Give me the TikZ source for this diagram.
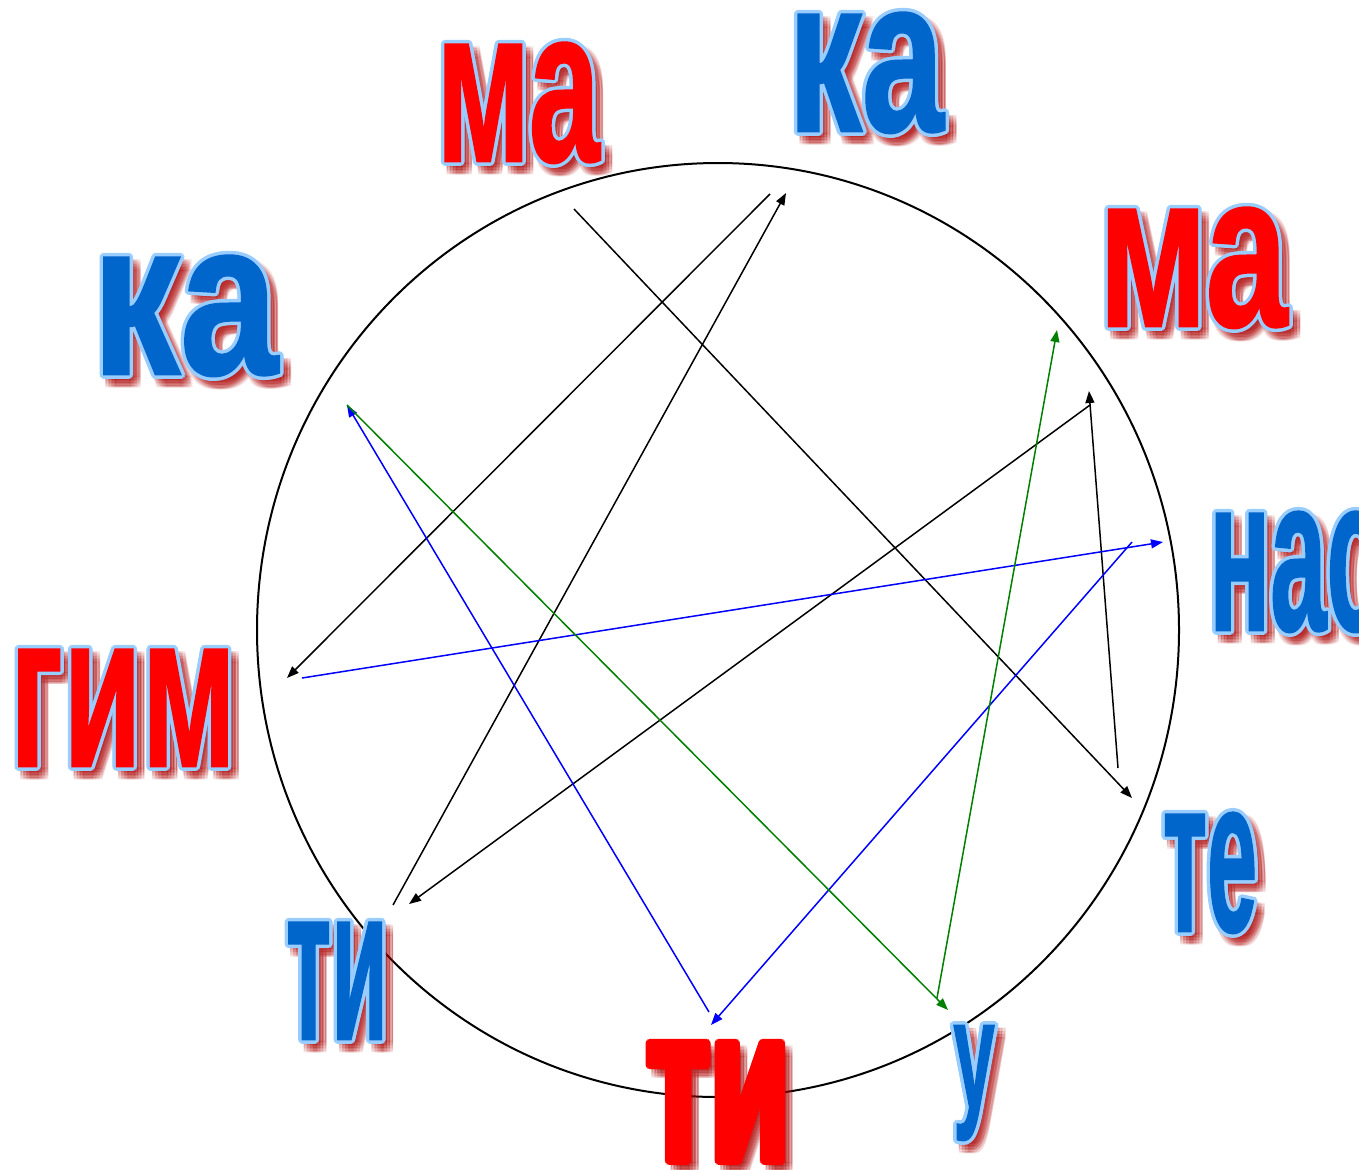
\documentclass[tikz,border=0pt]{standalone}
\usepackage{fontspec}
\usepackage{graphicx}
\newfontfamily\sylfont[FakeBold=1.2]{Liberation Sans}
\usetikzlibrary{arrows.meta, calc}
\definecolor{sylred}{RGB}{255, 0, 0}
\definecolor{sylblue}{RGB}{0, 102, 204}
\definecolor{rimblue}{RGB}{153, 204, 255}
\definecolor{shadowred}{RGB}{170, 0, 0}
\definecolor{linegreen}{RGB}{0, 128, 0}
\definecolor{lineblue}{RGB}{0, 0, 255}

% #1 rim colour, #2 name, #3 base point, #4 fill, #5 x stretch, #6 y stretch, #7 text
\newcommand{\syllable}[7][rimblue]{%
    \foreach \dx in {2,5,8,11}{
        \foreach \dy in {3,6,9,12}{
            \node[syl, text=shadowred, opacity=0.1] at ($(#3)+(\dx,\dy)$) {\scalebox{#5}[#6]{#7}};
        }
    }
    \foreach \a in {0,30,...,330}
        \node[syl, text=#1] at ($(#3)+(\a:3.5)$) {\scalebox{#5}[#6]{#7}};
    \node[syl, text=#4] (#2) at (#3) {\scalebox{#5}[#6]{#7}};
}

\begin{document}
\begin{tikzpicture}[
    x=0.5pt, y=-0.5pt,
    syl/.style={
        font=\sylfont\bfseries\fontsize{110}{110}\selectfont,
        inner sep=0pt, anchor=base
    },
    link/.style={
        -{Triangle[length=6pt, width=4.5pt]}, line width=0.75pt
    }
]
\useasboundingbox (0,0) rectangle (1359,1169);
\clip (0,0) rectangle (1359,1169);

% circle
\draw[line width=1pt] (718,630) ellipse [x radius=461, y radius=467];

% end points of the strokes
\coordinate (a1) at (574,209);   \coordinate (a2) at (1132,798);
\coordinate (b1) at (770,194);   \coordinate (b2) at (287,678);
\coordinate (c1) at (393,905);   \coordinate (c2) at (786,193);
\coordinate (d1) at (1090,405);  \coordinate (d2) at (409,904);
\coordinate (e1) at (1118,768);  \coordinate (e2) at (1089,391);
\coordinate (f1) at (302,678);   \coordinate (f2) at (1163,542);
\coordinate (g1) at (1132,542);  \coordinate (g2) at (711,1025);
\coordinate (h1) at (709,1012);  \coordinate (h2) at (347,405);
\coordinate (i1) at (347,405);   \coordinate (i2) at (948,1010);
\coordinate (j1) at (937,998);   \coordinate (j2) at (1057,330);

% black strokes
\draw[link] (a1) -- (a2);
\draw[link] (b1) -- (b2);
\draw[link] (c1) -- (c2);
\draw[link] (d1) -- (d2);
\draw[link] (e1) -- (e2);

% blue strokes
\draw[link, draw=lineblue, fill=lineblue] (f1) -- (f2);
\draw[link, draw=lineblue, fill=lineblue] (g1) -- (g2);
\draw[link, draw=lineblue, fill=lineblue] (h1) -- (h2);

% green strokes
\draw[link, draw=linegreen, fill=linegreen] (i1) -- (i2);
\draw[link, draw=linegreen, fill=linegreen] (j1) -- (j2);

% syllables
\syllable{matop}{518,161}{sylred}{0.58}{1}{ма}
\syllable{katop}{866,131}{sylblue}{0.67}{1}{ка}
\syllable{maright}{1193,326}{sylred}{0.67}{1}{ма}
\syllable{kaleft}{185,374}{sylblue}{0.80}{1}{ка}
\syllable{nas}{1296,630}{sylblue}{0.46}{1}{нас}
\syllable{gim}{123,766}{sylred}{0.58}{1}{гим}
\syllable{te}{1210,931}{sylblue}{0.41}{1}{те}
\syllable{tileft}{337,1039}{sylblue}{0.42}{1}{ти}
\syllable[sylred]{tibottom}{718,1160}{sylred}{0.59}{1}{ти}
\syllable{u}{974,1108}{sylblue}{0.34}{0.71}{у}

\end{tikzpicture}
\end{document}
